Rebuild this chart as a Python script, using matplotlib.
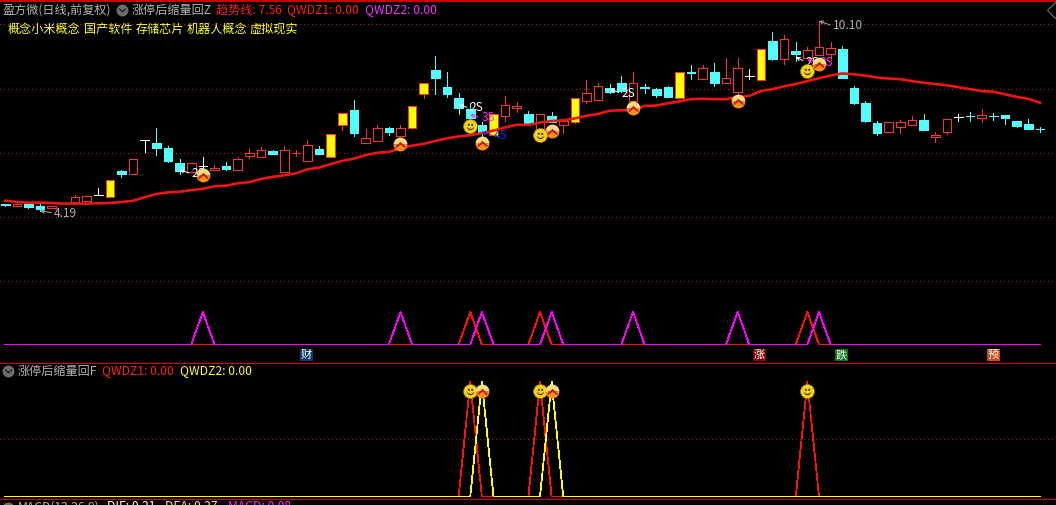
import numpy as np
import matplotlib
matplotlib.use('Agg')
import matplotlib.pyplot as plt
from matplotlib.path import Path
from matplotlib.patches import Rectangle

plt.rcParams['font.family'] = ['Noto Sans CJK SC', 'DejaVu Sans']
plt.rcParams['lines.antialiased'] = False
plt.rcParams['patch.antialiased'] = False

nan = float('nan')

opens = [4.40, 4.35, 4.42, 4.35, 4.29, nan, 4.46, 4.51, 4.68, 4.63,
         5.43, 5.35, 6.39, 6.30, 6.14, 5.67, 5.41, 5.59, 5.48, 5.59,
         5.48, 5.91, 5.88, 6.05, 5.41, 5.98, 5.76, 6.12, 5.88, 6.87,
         7.33, 6.31, 6.38, 6.77, 6.52, 6.77, 7.83, 8.58, 8.05, 7.70,
         7.35, 6.87, 6.55, 7.15, 7.39, 7.21, 6.74, 7.15, 6.87, 6.96,
         7.61, 7.64, 8.02, 8.17, 7.61, 8.05, 7.98, 8.05, 7.70, 8.51,
         8.30, 8.51, 8.18, 7.90, 8.40, 8.27, 9.48, 8.91, 9.17, 8.96,
         9.05, 9.08, 9.23, 8.02, 7.55, 6.92, 6.66, 6.81, 6.87, 7.02,
         6.50, 6.66, 7.10, 7.15, 7.09, 7.16, 7.17, 6.98, 6.89, 6.75]
closes = [4.38, 4.41, 4.32, 4.25, 4.36, nan, 4.62, 4.65, 4.68, 5.15,
          5.34, 5.80, 6.39, 6.16, 5.75, 5.43, 5.69, 5.59, 5.52, 5.51,
          5.80, 6.00, 6.08, 5.97, 6.08, 6.00, 6.23, 5.96, 6.58, 7.23,
          6.63, 6.45, 6.76, 6.65, 6.76, 7.46, 8.17, 8.33, 7.83, 7.39,
          7.08, 6.61, 7.21, 7.48, 7.45, 6.93, 7.21, 6.97, 6.99, 7.70,
          7.85, 8.07, 7.89, 7.92, 8.17, 8.03, 7.80, 7.74, 8.51, 8.49,
          8.63, 8.18, 8.32, 8.63, 8.40, 9.23, 8.91, 9.53, 9.07, 9.19,
          9.28, 9.25, 8.33, 7.55, 7.00, 6.62, 6.95, 6.95, 7.01, 6.72,
          6.55, 7.04, 7.10, 7.13, 7.17, 7.13, 7.09, 6.84, 6.75, 6.73]
highs = [4.41, 4.50, 4.44, 4.41, 4.36, nan, 4.69, 4.65, 4.90, 5.15,
         5.47, 5.80, 6.39, 6.76, 6.21, 5.81, 5.69, 5.86, 5.62, 5.71,
         5.86, 6.15, 6.18, 6.09, 6.21, 6.09, 6.40, 6.21, 6.58, 7.23,
         7.64, 6.74, 6.87, 6.81, 6.87, 7.46, 8.17, 9.01, 8.51, 7.85,
         7.54, 6.95, 7.21, 7.77, 7.58, 7.30, 7.21, 7.27, 6.99, 7.70,
         8.27, 8.17, 8.13, 8.39, 8.51, 8.13, 8.02, 8.08, 8.51, 8.73,
         8.73, 8.79, 8.95, 8.95, 8.60, 9.23, 9.76, 9.66, 9.45, 9.30,
         10.10, 9.45, 9.32, 8.08, 7.61, 6.98, 6.95, 7.02, 7.14, 7.21,
         6.66, 7.04, 7.20, 7.27, 7.36, 7.25, 7.17, 6.98, 7.04, 6.80]
lows = [4.35, 4.35, 4.28, 4.19, 4.29, nan, 4.46, 4.51, 4.68, 4.63,
        5.26, 5.35, 6.03, 5.93, 5.72, 5.34, 5.41, 5.37, 5.48, 5.47,
        5.48, 5.85, 5.88, 5.95, 5.41, 5.90, 5.76, 5.96, 5.86, 6.71,
        6.53, 6.31, 6.38, 6.55, 6.52, 6.73, 7.71, 7.83, 7.75, 7.21,
        6.96, 6.46, 6.55, 6.99, 7.28, 6.93, 6.74, 6.97, 6.63, 6.92,
        7.54, 7.64, 7.87, 7.90, 7.61, 7.87, 7.75, 7.74, 7.70, 8.30,
        8.30, 8.08, 8.18, 7.83, 8.29, 8.27, 8.89, 8.76, 8.87, 8.96,
        9.05, 8.89, 8.33, 7.53, 6.97, 6.56, 6.66, 6.62, 6.87, 6.72,
        6.34, 6.59, 6.99, 6.99, 6.97, 7.03, 6.90, 6.81, 6.75, 6.66]
trend = [4.51, 4.47, 4.45, 4.45, 4.44, 4.42, 4.42, 4.42, 4.43, 4.44,
         4.47, 4.51, 4.62, 4.72, 4.77, 4.79, 4.84, 4.88, 4.96, 4.98,
         5.05, 5.09, 5.19, 5.25, 5.30, 5.36, 5.49, 5.54, 5.65, 5.75,
         5.82, 5.93, 6.00, 6.03, 6.14, 6.22, 6.28, 6.37, 6.45, 6.51,
         6.55, 6.61, 6.69, 6.79, 6.87, 6.87, 6.94, 6.99, 7.01, 7.07,
         7.15, 7.21, 7.31, 7.32, 7.33, 7.46, 7.47, 7.54, 7.60, 7.67,
         7.68, 7.67, 7.67, 7.73, 7.77, 7.92, 7.98, 8.07, 8.14, 8.23,
         8.32, 8.40, 8.47, 8.44, 8.40, 8.34, 8.31, 8.29, 8.23, 8.18,
         8.14, 8.10, 8.04, 7.98, 7.92, 7.90, 7.82, 7.74, 7.68, 7.56]

limit_up_days = [9, 28, 29, 35, 36, 42, 49, 58, 65]
chevron_days = [17, 34, 41, 47, 54, 63, 70]
chevron_prices = [5.31, 6.28, 6.30, 6.68, 7.39, 7.61, 8.76]
smile_days = [40, 46, 69]
smile_prices = [6.83, 6.55, 8.55]
price_grid = [2, 4, 6, 8, 10]

# signal panels
z_qwdz1_days = [40, 46, 69]
z_qwdz2_days = [17, 34, 41, 47, 54, 63, 70]
f_qwdz1_days = [40, 46, 69]
f_qwdz2_days = [41, 47]

RED = '#ff3232'
CYAN = '#54fcfc'
W, H = 1056, 505

days = np.arange(len(closes))
xlim = ((0 - 5.25) / 11.625, (W - 5.25) / 11.625)

chevron_marker = Path([(-1, -0.35), (0, 0.55), (1, -0.35), (1, -0.85), (0, -0.05), (-1, -0.85), (-1, -0.35)])
smile_marker = Path.make_compound_path(
    Path([(-0.5, 0.15), (-0.15, 0.15), (-0.15, 0.5), (-0.5, 0.5), (-0.5, 0.15)]),
    Path([(0.15, 0.15), (0.5, 0.15), (0.5, 0.5), (0.15, 0.5), (0.15, 0.15)]),
    Path([(-0.75, -0.15), (-0.35, -0.62), (0, -0.72), (0.35, -0.62), (0.75, -0.15), (0.55, -0.2),
          (0.25, -0.42), (0, -0.48), (-0.25, -0.42), (-0.55, -0.2), (-0.75, -0.15)]),
    Path([(-1, -1), (-1, -1)]), Path([(1, 1), (1, 1)]))
down_marker = Path([(-1, 0.3), (0, -0.6), (1, 0.3), (1, 0.75), (0, -0.1), (-1, 0.75), (-1, 0.3)])


def panel(top, bottom, zorder=1):
    return fig.add_axes([0, 1 - bottom / H, 1, (bottom - top) / H], facecolor='none', zorder=zorder)


def clean(ax):
    ax.set_xlim(*xlim)
    ax.set_xticks([])
    ax.tick_params(left=False, labelleft=False)
    for s in ax.spines.values():
        s.set_visible(False)


def draw_chevrons(ax, xs, ys):
    ax.plot(xs, ys, ls='none', marker='o', ms=10, mew=0, fillstyle='bottom', mfc='#f7901e',
            markerfacecoloralt='#f9dc80', antialiased=True, zorder=8)
    ax.plot(xs, ys, ls='none', marker=chevron_marker, ms=7, mew=0, mfc='#c4201a', antialiased=True, zorder=9)


def draw_smiles(ax, xs, ys):
    ax.plot(xs, ys, ls='none', marker='o', ms=10, mew=0.5, mfc='#f3d21f', mec='#a87c00', antialiased=True, zorder=8)
    ax.plot(xs, ys, ls='none', marker=smile_marker, ms=7.5, mew=0, mfc='#3a2a00', antialiased=True, zorder=9)


def pulses(peak_days):
    return [1 if d in peak_days else 0 for d in days]


fig = plt.figure(figsize=(W / 100, H / 100), dpi=100, facecolor='black')

# main price panel, y = 0 to 362 px
ax = panel(0, 362)
clean(ax)
ax.set_ylim(10.753 - 0.0311 * 362, 10.753)
ax.set_yticks(price_grid)
ax.grid(axis='y', color='#c01414', lw=0.72, ls=(0, (1, 3)))
ax.set_axisbelow(True)

for i in days:
    o, c, h, l = opens[i], closes[i], highs[i], lows[i]
    if np.isnan(c):
        continue
    if i in limit_up_days:
        edge, face = RED, '#ffff00'
    elif c > o:
        edge, face = RED, 'black'
    elif c < o:
        edge, face = CYAN, CYAN
    else:
        edge, face = 'white', 'white'
    ax.plot([i, i], [l, h], color=edge, lw=0.72, zorder=2, solid_capstyle='butt')
    ax.bar(i, c - o, bottom=o, width=0.74, facecolor=face, edgecolor=edge, lw=0.72, zorder=3)

ax.plot(days, trend, color='#f01414', lw=1.9, antialiased=True, zorder=5)

draw_chevrons(ax, chevron_days, chevron_prices)
draw_smiles(ax, smile_days, smile_prices)

# (text, colour, day, price at arrow tip, text offset in pixels)
labels = [('2S', 'white', 15, 5.47, (12, -4)),
          ('2S', 'white', 39, 7.49, (11, -3)),
          ('3S', '#ff30ff', 40, 7.18, (11, -3)),
          ('4S', '#1c30e0', 41, 6.65, (12, -4)),
          ('2S', 'white', 52, 7.99, (12, -5)),
          ('2S', 'white', 68, 8.98, (10, -5)),
          ('3S', '#ff30ff', 69, 8.89, (12, -3)),
          ('10.10', '#b0b0b0', 70, 10.10, (14, -5)),
          ('4.19', '#b0b0b0', 3, 4.19, (14, -2))]
for text, color, d, p, off in labels:
    ax.annotate(text, xy=(d, p), xytext=off, textcoords='offset pixels', color=color, fontsize=8.6,
                ha='left', va='center', zorder=7,
                arrowprops=dict(arrowstyle='->', color=color, lw=0.7, shrinkA=0, shrinkB=0, relpos=(0, 0.5),
                                mutation_scale=6, antialiased=True))

# triangles at the bottom of the main panel
ax2 = panel(300, 362, zorder=2)
clean(ax2)
ax2.set_ylim(-17.5 / 32.5, 44.5 / 32.5)
ax2.set_yticks([])
ax2.plot(days, pulses(z_qwdz1_days), color='#ff1010', lw=0.55, zorder=2)
ax2.plot(days, pulses(z_qwdz2_days), color='#ff00ff', lw=0.55, zorder=3)

# lower indicator panel
ax3 = panel(362, 505, zorder=2)
clean(ax3)
ax3.set_ylim(-8.4 / 114.6, 134.6 / 114.6)
ax3.set_yticks([0.5])
ax3.grid(axis='y', color='#902020', lw=0.72, ls=(0, (1, 3)))
ax3.set_axisbelow(True)
ax3.plot(days, pulses(f_qwdz1_days), color='#ff1010', lw=0.55, zorder=2)
ax3.plot(days, pulses(f_qwdz2_days), color='#ffff00', lw=0.55, zorder=3)
draw_smiles(ax3, smile_days, [0.92] * len(smile_days))
draw_chevrons(ax3, f_qwdz2_days, [0.92] * len(f_qwdz2_days))

# header texts, dividers and badges placed in pixels
top = fig.add_axes([0, 0, 1, 1], facecolor='none', zorder=10)
top.set_xlim(0, W)
top.set_ylim(H, 0)
top.axis('off')

top.axhline(1, color='#c80000', lw=1.4)
top.axhline(362.5, color='#e00000', lw=0.72)
top.axhline(499, color='#e00000', lw=0.72)

GREY = '#b4b4b4'
YELLOW = '#ffff30'
header = [(3, 10, '盈方微(日线,前复权)', GREY),
          (132, 10, '涨停后缩量回Z', GREY),
          (216, 10, '趋势线: 7.56', '#ff2020'),
          (287, 10, 'QWDZ1: 0.00', '#ff2020'),
          (365, 10, 'QWDZ2: 0.00', '#ff30ff'),
          (8, 29, '概念小米概念', YELLOW),
          (84, 29, '国产软件', YELLOW),
          (136, 29, '存储芯片', YELLOW),
          (187, 29, '机器人概念', YELLOW),
          (250, 29, '虚拟现实', YELLOW),
          (18, 371, '涨停后缩量回F', GREY),
          (102, 371, 'QWDZ1: 0.00', '#ff2020'),
          (180, 371, 'QWDZ2: 0.00', YELLOW),
          (18, 507, 'MACD(12,26,9)', GREY),
          (107, 507, 'DIF: 0.21', 'white'),
          (165, 507, 'DEA: 0.27', YELLOW),
          (228, 507, 'MACD: 0.08', '#ff30ff')]
for x, y, s, color in header:
    top.text(x, y, s, color=color, fontsize=8.7, ha='left', va='center', clip_on=True)

icon_x = [122, 7.5, 7.5]
icon_y = [10, 371, 508]
top.plot(icon_x, icon_y, ls='none', marker='o', ms=8.6, mew=0, mfc='#6e6e6e', antialiased=True, clip_on=True)
top.plot(icon_x[:2], icon_y[:2], ls='none', marker=down_marker, ms=5, mew=0, mfc='#1e1e1e', antialiased=True)
top.plot([1055], [10], ls='none', marker='D', ms=8, mew=0.7, mfc='none', mec='#808080', antialiased=True)

badges = [(300, '财', '#0b3a6b'), (753, '涨', '#7c0808'), (835, '跌', '#0a7a18'), (987, '预', '#c84a10')]
for x, s, color in badges:
    top.add_patch(Rectangle((x, 349), 13, 12, facecolor=color, edgecolor='none'))
    top.text(x + 6.5, 355, s, color='white', fontsize=8, ha='center', va='center')

fig.savefig('out.png', dpi=100, facecolor='black')
